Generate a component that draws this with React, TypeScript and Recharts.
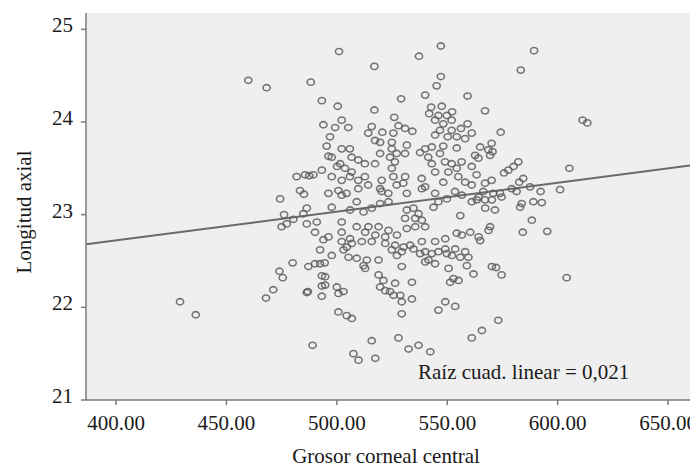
import {
  ScatterChart,
  Scatter,
  XAxis,
  YAxis,
  CartesianGrid,
  ReferenceLine,
} from "recharts";

// Grosor corneal central (x) y longitud axial (y)
const grosorCorneal = [
  459.9, 468.2, 488.2, 493.2, 493.9, 495.4, 496.2, 493.2, 489.4, 485.6, 481.8, 487.5, 483.3, 485.1, 474.3, 496.2,
  476.1, 486.4, 480.3, 475.0, 477.3, 484.8, 486.4, 490.9, 490.1, 493.9, 492.4, 480.0, 487.1, 490.1,
  492.4, 474.0, 475.5, 493.2, 471.2, 467.9, 486.4, 486.9, 493.2, 493.2, 429.0, 436.1, 489.0, 494.5,
  501.0, 517.0, 537.2, 547.1, 547.1, 545.2, 540.0, 529.1, 559.2, 567.1, 500.4, 517.0, 526.0, 502.2,
  505.2, 499.2, 515.8, 520.6, 525.6, 527.9, 530.9, 534.2, 542.7, 547.5, 541.8, 546.0, 549.8, 552.2,
  544.5, 548.2, 552.0, 546.7, 552.0, 559.2, 556.2, 561.1, 544.5, 550.2, 554.3, 558.1, 570.1, 564.9,
  568.6, 562.6, 564.1, 569.4, 561.1, 563.3, 567.1, 570.1, 558.1, 561.1, 552.0, 554.3, 556.5, 549.0,
  555.0, 546.7, 541.4, 537.7, 543.0, 540.0, 548.2, 554.3, 543.0, 544.5, 548.2, 550.5, 538.4, 540.0,
  531.7, 530.9, 524.9, 527.1, 524.1, 526.3, 524.9, 519.6, 519.6, 517.3, 530.9, 530.1, 525.6, 527.1,
  520.3, 519.6, 523.3, 531.7, 538.5, 512.7, 514.2, 509.7, 509.7, 506.7, 512.7, 509.7, 506.7, 505.9,
  502.2, 497.7, 501.5, 500.1, 503.7, 497.7, 502.2, 505.9, 500.7, 504.4, 496.9, 514.2, 517.3, 524.9,
  520.3, 544.5, 553.5, 566.3, 570.8, 567.1, 563.4,
  589.3, 583.3, 611.3, 613.4, 574.2, 570.5, 582.2, 580.0, 577.7, 575.7, 605.3, 584.4, 582.6, 587.5,
  601.1, 592.3, 573.9, 581.4, 579.2, 589.0, 592.8, 583.7,
  583.0, 588.3, 584.2, 595.3, 571.6, 572.1, 574.6, 604.1, 573.1, 574.6,
  497.7, 502.2, 509.0, 506.0, 512.1, 515.8, 519.6, 523.4, 531.7, 534.7, 537.0, 543.8, 546.0, 549.8,
  556.6, 561.1, 564.2, 567.2, 570.2, 530.9, 535.5, 538.5, 531.7, 535.5, 540.0, 514.3, 518.9, 523.4,
  509.0, 502.2, 502.2, 521.9, 527.2, 517.4, 512.8, 555.9, 569.4, 568.7, 560.4, 564.2, 564.9, 554.3,
  556.6, 549.1, 544.5, 538.5, 533.2, 530.2, 526.4, 524.9, 521.9, 515.8, 511.3, 506.0, 506.8, 504.5,
  503.0, 502.2, 505.3, 509.0, 513.6, 512.1, 512.8, 496.2, 497.7, 527.2, 529.4, 534.7, 537.7, 540.0,
  543.0, 546.0, 549.1, 549.8, 540.0, 544.5, 541.5, 552.1, 555.9, 558.1, 559.6, 553.6, 558.9, 561.9,
  550.6, 552.8, 555.1, 551.3, 570.2, 518.9, 529.4, 518.9, 521.1, 519.6, 526.4, 534.0, 521.9, 524.1,
  525.7, 528.7, 529.4, 534.0, 500.0, 503.0, 500.7, 494.7, 494.7, 500.7, 504.5, 506.8, 529.4, 546.0,
  549.1, 553.6, 565.7, 561.1, 515.8, 527.9, 532.5, 537.0, 542.3, 507.5, 509.8, 517.4,
];

const longitudAxial = [
  24.45, 24.37, 24.43, 24.23, 23.97, 23.74, 23.63, 23.48, 23.43, 23.43, 23.41, 23.42, 23.26, 23.22, 23.17, 23.23,
  23.0, 23.07, 22.95, 22.87, 22.9, 23.01, 22.9, 22.92, 22.81, 22.73, 22.62, 22.48, 22.44, 22.47,
  22.47, 22.39, 22.32, 22.34, 22.19, 22.1, 22.16, 22.17, 22.23, 22.12, 22.06, 21.92, 21.59, 22.48,
  24.76, 24.6, 24.71, 24.82, 24.49, 24.39, 24.29, 24.25, 24.28, 24.12, 24.17, 24.13, 24.05, 24.02,
  23.94, 23.94, 23.95, 23.89, 23.88, 23.96, 23.93, 23.9, 24.16, 24.17, 24.09, 24.07, 24.07, 24.11,
  24.02, 23.98, 24.02, 23.91, 23.91, 23.98, 23.93, 23.88, 23.86, 23.84, 23.84, 23.82, 23.77, 23.73,
  23.7, 23.64, 23.61, 23.64, 23.52, 23.43, 23.34, 23.37, 23.35, 23.32, 23.55, 23.5, 23.57, 23.57,
  23.41, 23.66, 23.62, 23.67, 23.73, 23.71, 23.74, 23.72, 23.55, 23.46, 23.35, 23.46, 23.39, 23.3,
  23.75, 23.66, 23.71, 23.66, 23.62, 23.57, 23.5, 23.66, 23.78, 23.55, 23.41, 23.34, 23.41, 23.32,
  23.37, 23.28, 23.23, 23.23, 23.28, 23.41, 23.32, 23.28, 23.37, 23.46, 23.55, 23.59, 23.62, 23.71,
  23.71, 23.62, 23.55, 23.52, 23.5, 23.41, 23.37, 23.41, 23.26, 23.23, 23.84, 23.88, 23.8, 23.78,
  23.25, 23.23, 23.25, 23.25, 23.23, 23.16, 23.16,
  24.77, 24.56, 24.02, 23.99, 23.89, 23.68, 23.57, 23.52, 23.48, 23.45, 23.5, 23.39, 23.35, 23.3,
  23.27, 23.25, 23.23, 23.25, 23.28, 23.14, 23.13, 23.12,
  23.08, 22.94, 22.81, 22.82, 23.05, 22.43, 22.35, 22.32, 21.86, 23.19,
  23.08, 23.21, 23.14, 23.05, 23.03, 23.07, 23.12, 23.14, 23.05, 23.07, 23.01, 23.08, 23.14, 23.17,
  23.21, 23.14, 23.19, 23.07, 23.16, 22.96, 22.96, 22.94, 22.85, 22.87, 22.87, 22.87, 22.87, 22.83,
  22.87, 22.92, 22.81, 22.76, 22.78, 22.78, 22.81, 22.99, 22.87, 22.83, 22.81, 22.76, 22.72, 22.8,
  22.78, 22.74, 22.71, 22.71, 22.67, 22.65, 22.67, 22.62, 22.69, 22.71, 22.71, 22.74, 22.69, 22.65,
  22.62, 22.71, 22.54, 22.53, 22.51, 22.45, 22.42, 22.76, 22.56, 22.56, 22.6, 22.63, 22.58, 22.6,
  22.58, 22.6, 22.63, 22.58, 22.49, 22.47, 22.51, 22.56, 22.54, 22.6, 22.54, 22.63, 22.45, 22.36,
  22.42, 22.31, 22.29, 22.27, 22.44, 22.51, 22.44, 22.35, 22.29, 22.22, 22.26, 22.27, 22.18, 22.17,
  22.13, 22.13, 22.06, 22.09, 22.22, 22.17, 22.15, 22.33, 22.24, 21.95, 21.91, 21.88, 21.93, 21.97,
  22.06, 22.01, 21.75, 21.67, 21.64, 21.67, 21.55, 21.59, 21.52, 21.5, 21.43, 21.45,
];

const ticksGrosor = [400, 450, 500, 550, 600, 650];
const ticksLongitud = [21, 22, 23, 24, 25];
const rectaAjuste = [
  { x: 386.4, y: 22.68 },
  { x: 663.1, y: 23.54 },
];
const textoAjuste = "Raíz cuad. linear = 0,021";

const puntos = grosorCorneal.map((g, i) => ({ grosor: g, longitud: longitudAxial[i] }));

const serif = "'Liberation Serif', 'Times New Roman', serif";

function TickX(props: any) {
  const { x, y, payload } = props;
  return (
    <text x={x} y={y} dy={23} textAnchor="middle" fontSize={21} fontFamily={serif} fill="#1a1a1a">
      {Number(payload.value).toFixed(2)}
    </text>
  );
}

function TickY(props: any) {
  const { x, y, payload } = props;
  return (
    <text x={x} y={y} dx={-6} dy={3} textAnchor="end" fontSize={21} fontFamily={serif} fill="#1a1a1a">
      {payload.value}
    </text>
  );
}

function Punto(props: any) {
  const { cx, cy } = props;
  return (
    <ellipse cx={cx} cy={cy} rx={3.6} ry={3.1} fill="none" stroke="#5e5e5e" strokeWidth={1.6} strokeOpacity={0.85} />
  );
}

export default function App() {
  return (
    <ScatterChart width={690} height={463} margin={{ top: 5, right: 1, bottom: 7, left: 0 }}>
      <CartesianGrid horizontal={false} vertical={false} fill="#efefef" />
      <XAxis
        type="number"
        dataKey="grosor"
        domain={[386.4, 663.1]}
        ticks={ticksGrosor}
        allowDataOverflow
        height={64}
        tick={<TickX />}
        tickSize={5}
        stroke="#7a7a7a"
        strokeWidth={1.5}
        label={{
          content: () => (
            <g fontFamily={serif} fontSize={21} fill="#1a1a1a">
              <text x={378} y={455} textAnchor="middle">
                Grosor corneal central
              </text>
              <text x={410} y={371} textAnchor="start">
                {textoAjuste}
              </text>
            </g>
          ),
        }}
      />
      <YAxis
        type="number"
        dataKey="longitud"
        domain={[21, 25.176]}
        ticks={ticksLongitud}
        allowDataOverflow
        width={78}
        tick={<TickY />}
        tickSize={5}
        stroke="#7a7a7a"
        strokeWidth={1.5}
        label={{
          content: () => (
            <text
              x={22.5}
              y={204}
              transform="rotate(-90, 22.5, 204)"
              textAnchor="middle"
              fontFamily={serif}
              fontSize={21}
              fill="#1a1a1a"
            >
              Longitud axial
            </text>
          ),
        }}
      />
      <ReferenceLine
        segment={rectaAjuste}
        stroke="#6a6a6a"
        strokeWidth={2}
        ifOverflow="hidden"
      />
      <Scatter data={puntos} shape={<Punto />} isAnimationActive={false} />
    </ScatterChart>
  );
}
